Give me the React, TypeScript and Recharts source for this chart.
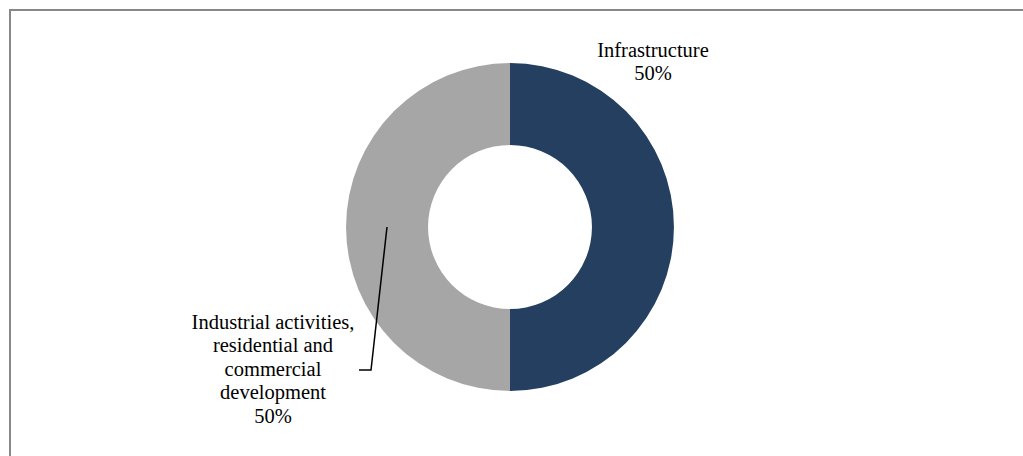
import React from "react"
import { PieChart, Pie, Cell } from "recharts"

const categories = ["Infrastructure", "Industrial activities, residential and commercial development"]
const shares = [50, 50]
const labelLines = [
  ["Infrastructure", "50%"],
  ["Industrial activities,", "residential and", "commercial", "development", "50%"],
]
const colors = ["#243F60", "#A6A6A6"]

const data = categories.map((name, i) => ({ name, value: shares[i] }))

const FONT = "'Liberation Serif', 'DejaVu Serif', serif"
const FONT_SIZE = 20.5
const LINE_H = 23.4

const renderLabel = (props: any) => {
  const { cx, cy, midAngle, innerRadius, outerRadius, index } = props
  const lines = labelLines[index]
  if (index === 0) {
    const x = cx + 143
    const y0 = cy - 170
    return (
      <text x={x} y={y0} textAnchor="middle" fill="#000" fontFamily={FONT} fontSize={FONT_SIZE}>
        {lines.map((l, i) => (
          <tspan key={i} x={x} y={y0 + i * LINE_H}>{l}</tspan>
        ))}
      </text>
    )
  }
  const rad = Math.PI / 180
  const r = (innerRadius + outerRadius) / 2
  const sx = cx + r * Math.cos(-midAngle * rad)
  const sy = cy + r * Math.sin(-midAngle * rad)
  const ex = sx - 16
  const ey = sy + 143
  const x = cx - 237
  const y0 = cy + 102
  return (
    <g>
      <polyline points={`${sx},${sy} ${ex},${ey} ${ex - 12},${ey}`} fill="none" stroke="#000" strokeWidth={1.5} />
      <text x={x} y={y0} textAnchor="middle" fill="#000" fontFamily={FONT} fontSize={FONT_SIZE}>
        {lines.map((l, i) => (
          <tspan key={i} x={x} y={y0 + i * LINE_H}>{l}</tspan>
        ))}
      </text>
    </g>
  )
}

export default function App() {
  return (
    <div style={{ position: "fixed", left: 0, top: 0, width: 1023, height: 456, background: "#fff", overflow: "hidden" }}>
      <div style={{ position: "absolute", left: 9, top: 9, width: 1100, height: 500, borderTop: "2px solid #888", borderLeft: "2px solid #888" }} />
      <div style={{ position: "absolute", left: 0, top: 0 }}>
        <PieChart width={1023} height={456} margin={{ top: 0, right: 0, bottom: 0, left: 0 }}>
          <Pie
            data={data}
            dataKey="value"
            cx={510}
            cy={227}
            innerRadius={82}
            outerRadius={164}
            startAngle={90}
            endAngle={-270}
            stroke="none"
            label={renderLabel}
            labelLine={false}
            isAnimationActive={false}
          >
            {data.map((d, i) => (
              <Cell key={d.name} fill={colors[i]} />
            ))}
          </Pie>
        </PieChart>
      </div>
    </div>
  )
}
